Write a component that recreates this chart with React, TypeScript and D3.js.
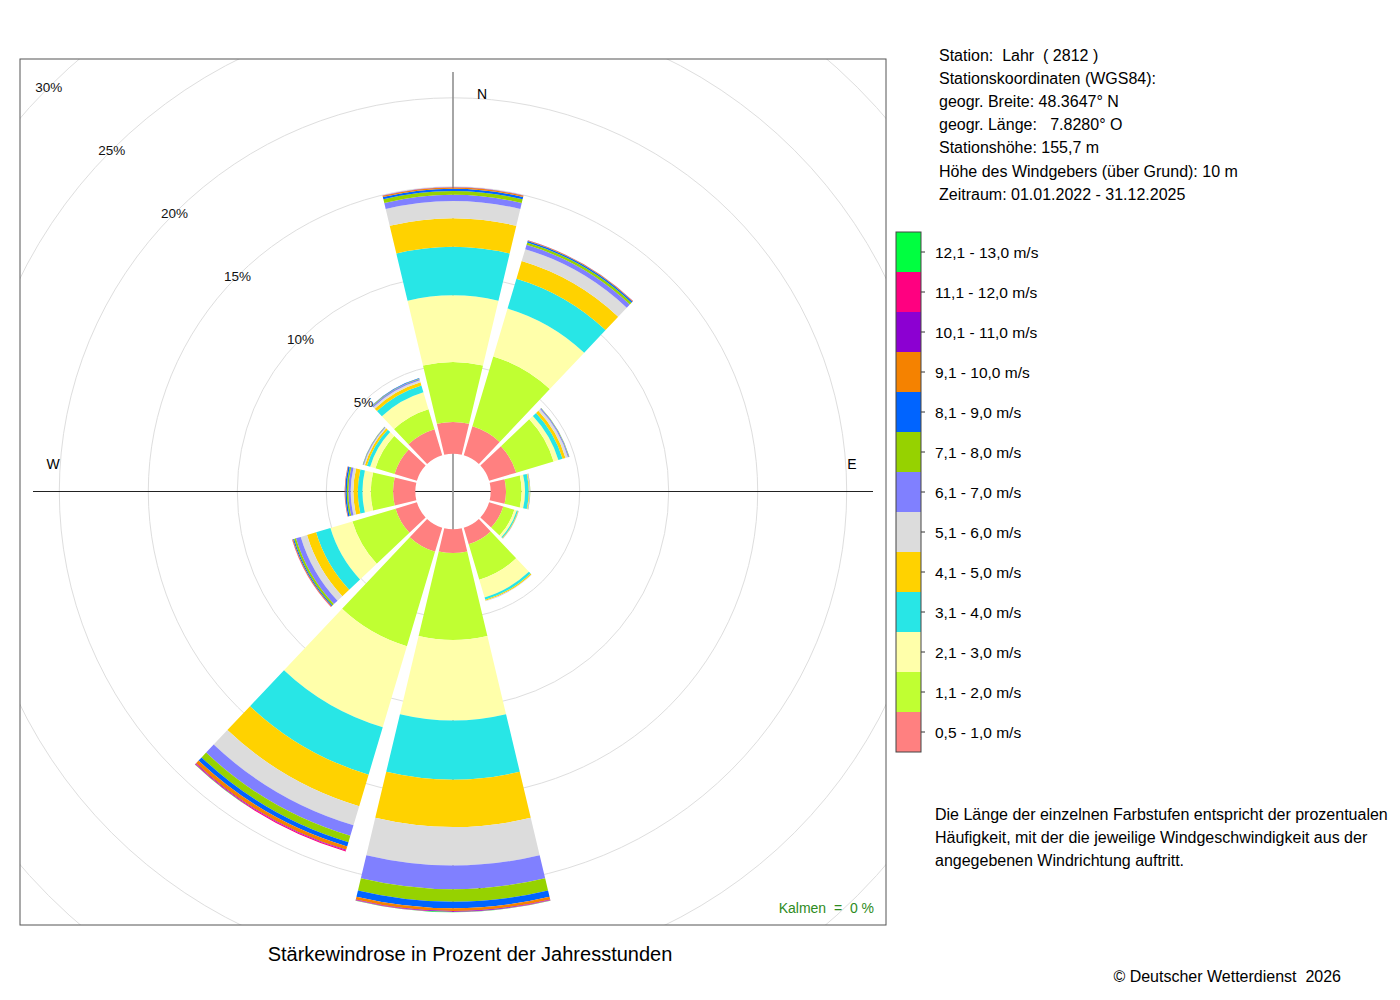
import React from "react";
import * as d3 from "d3";

// ---- data ----
const directions = [0, 30, 60, 90, 120, 150, 180, 210, 240, 270, 300, 330];
const speedClasses = [
  "0,5 - 1,0 m/s", "1,1 - 2,0 m/s", "2,1 - 3,0 m/s", "3,1 - 4,0 m/s",
  "4,1 - 5,0 m/s", "5,1 - 6,0 m/s", "6,1 - 7,0 m/s", "7,1 - 8,0 m/s",
  "8,1 - 9,0 m/s", "9,1 - 10,0 m/s", "10,1 - 11,0 m/s", "11,1 - 12,0 m/s",
  "12,1 - 13,0 m/s",
];
const classColors = [
  "#FF8080", "#C0FF32", "#FFFFAA", "#28E6E6", "#FFD200", "#DCDCDC", "#8080FF",
  "#96D200", "#0064FF", "#F58200", "#8C00D2", "#FF0080", "#00FF40",
];
// percent of hours per speed class, for each direction
const freqN   = [1.79, 3.37, 3.74, 2.72, 1.61, 0.97, 0.34, 0.22, 0.13, 0.07, 0.01, 0.0, 0.0];
const freqNNO = [1.70, 4.10, 2.81, 1.75, 1.03, 0.70, 0.25, 0.14, 0.08, 0.04, 0.01, 0.0, 0.0];
const freqONO = [1.59, 2.19, 0.28, 0.25, 0.17, 0.14, 0.06, 0.02, 0.01, 0.0, 0.0, 0.0, 0.0];
const freqO   = [0.86, 0.88, 0.19, 0.21, 0.04, 0.02, 0.02, 0.01, 0.0, 0.0, 0.0, 0.0, 0.0];
const freqOSO = [0.83, 0.65, 0.14, 0.07, 0.03, 0.01, 0.01, 0.0, 0.0, 0.0, 0.0, 0.0, 0.0];
const freqSSO = [0.97, 2.08, 1.04, 0.14, 0.06, 0.02, 0.01, 0.0, 0.0, 0.0, 0.0, 0.0, 0.0];
const freqS   = [1.34, 4.88, 4.52, 3.33, 2.66, 2.16, 1.33, 0.70, 0.37, 0.15, 0.04, 0.02, 0.01];
const freqSSW = [1.42, 5.53, 4.75, 2.78, 1.85, 1.12, 0.62, 0.37, 0.25, 0.20, 0.04, 0.05, 0.01];
const freqWSW = [1.25, 2.53, 1.29, 0.84, 0.53, 0.37, 0.28, 0.11, 0.06, 0.04, 0.01, 0.01, 0.0];
const freqW   = [1.25, 1.25, 0.47, 0.26, 0.25, 0.15, 0.13, 0.09, 0.08, 0.03, 0.01, 0.0, 0.0];
const freqWNW = [1.31, 1.12, 0.31, 0.19, 0.12, 0.06, 0.04, 0.02, 0.01, 0.0, 0.0, 0.0, 0.0];
const freqNNW = [1.53, 1.18, 0.99, 0.40, 0.18, 0.12, 0.08, 0.03, 0.02, 0.01, 0.0, 0.0, 0.0];
const freqByDirection = [freqN, freqNNO, freqONO, freqO, freqOSO, freqSSO, freqS, freqSSW, freqWSW, freqW, freqWNW, freqNNW];

const gridPercents = [5, 10, 15, 20, 25, 30];
const stationLines = [
  "Station:  Lahr  ( 2812 )",
  "Stationskoordinaten (WGS84):",
  "geogr. Breite: 48.3647° N",
  "geogr. Länge:   7.8280° O",
  "Stationshöhe: 155,7 m",
  "Höhe des Windgebers (über Grund): 10 m",
  "Zeitraum: 01.01.2022 - 31.12.2025",
];
const noteLines = [
  "Die Länge der einzelnen Farbstufen entspricht der prozentualen",
  "Häufigkeit, mit der die jeweilige Windgeschwindigkeit aus der",
  "angegebenen Windrichtung auftritt.",
];
const titleText = "Stärkewindrose in Prozent der Jahresstunden";
const calmText = "Kalmen  =  0 %";
const copyrightText = "© Deutscher Wetterdienst  2026";

// ---- layout ----
const FONT = "'Liberation Sans', Arial, Helvetica, sans-serif";
const frame = { x: 20, y: 59, w: 866, h: 866 };
const cx = frame.x + frame.w / 2;
const cy = frame.y + frame.h / 2 - 0.5;
const HOLE = 37.7;
const rScale = d3.scaleLinear().domain([0, 30]).range([HOLE, HOLE + 30 * 17.8]);
const HALF = 13.4; // half sector width in degrees
const rad = (d: number) => (d * Math.PI) / 180;
const pre = { whiteSpace: "pre" as const };

export default function App() {
  const arcGen = d3.arc<any>();
  const sectors: JSX.Element[] = [];
  freqByDirection.forEach((freqs, di) => {
    const dir = directions[di];
    const cum = [0, ...Array.from(d3.cumsum(freqs))];
    freqs.forEach((f, ci) => {
      if (f <= 0) return;
      const path = arcGen({
        innerRadius: rScale(cum[ci]),
        outerRadius: rScale(cum[ci + 1]),
        startAngle: rad(dir - HALF),
        endAngle: rad(dir + HALF),
      });
      sectors.push(
        <path key={`${di}-${ci}`} d={path || ""} fill={classColors[ci]} />
      );
    });
  });

  const legendTop = 232;
  const cellH = 40;
  const legendX = 896;
  const legendW = 25;
  const nCls = speedClasses.length;

  return (
    <svg
      width={1400}
      height={1000}
      style={{ position: "absolute", left: 0, top: 0, background: "#fff" }}
      fontFamily={FONT}
    >
      <defs>
        <clipPath id="plotClip">
          <rect x={frame.x} y={frame.y} width={frame.w} height={frame.h} />
        </clipPath>
      </defs>
      <g clipPath="url(#plotClip)">
        {gridPercents.map((p) => (
          <circle key={p} cx={cx} cy={cy} r={rScale(p)} fill="none" stroke="#DEDEDE" strokeWidth={1} />
        ))}
        <line x1={33} x2={873} y1={cy} y2={cy} stroke="#222" strokeWidth={1} />
        <line x1={cx} x2={cx} y1={72} y2={912} stroke="#909090" strokeWidth={1.6} />
        <text x={cx + 29} y={892} fontSize={14} textAnchor="middle" dy="0.35em">S</text>
        <g transform={`translate(${cx},${cy})`}>{sectors}</g>
        {gridPercents.map((p) => {
          const rr = rScale(p) * Math.SQRT1_2;
          return (
            <text key={p} x={cx - rr} y={cy - rr} fontSize={13.5} textAnchor="middle" dy="0.35em" fill="#111">
              {p}%
            </text>
          );
        })}
      </g>
      <text x={482} y={94} fontSize={14} textAnchor="middle" dy="0.35em">N</text>
      <text x={53} y={464} fontSize={14} textAnchor="middle" dy="0.35em">W</text>
      <text x={852} y={464} fontSize={14} textAnchor="middle" dy="0.35em">E</text>
      <rect x={frame.x} y={frame.y} width={frame.w} height={frame.h} fill="none" stroke="#555" strokeWidth={1} />
      <text x={874} y={908} fontSize={14} textAnchor="end" dy="0.35em" fill="#2E8B22" style={pre}>{calmText}</text>

      <text x={470} y={954} fontSize={20} textAnchor="middle" dy="0.35em">{titleText}</text>

      {stationLines.map((s, i) => (
        <text key={i} x={939} y={55 + i * 23.2} fontSize={16} dy="0.35em" style={pre}>{s}</text>
      ))}

      {speedClasses.map((s, i) => {
        const y = legendTop + (nCls - 1 - i) * cellH;
        return (
          <g key={s}>
            <rect x={legendX} y={y} width={legendW} height={cellH} fill={classColors[i]} />
            <line x1={legendX + legendW} x2={legendX + legendW + 4} y1={y + cellH / 2} y2={y + cellH / 2} stroke="#333" />
            <text x={935} y={y + cellH / 2 + 1} fontSize={15.5} dy="0.35em">{s}</text>
          </g>
        );
      })}
      <rect x={legendX} y={legendTop} width={legendW} height={cellH * nCls} fill="none" stroke="#444" strokeWidth={1} />

      {noteLines.map((s, i) => (
        <text key={i} x={935} y={814 + i * 23} fontSize={16} dy="0.35em">{s}</text>
      ))}
      <text x={1341} y={976} fontSize={16} textAnchor="end" dy="0.35em" style={pre}>{copyrightText}</text>
    </svg>
  );
}
